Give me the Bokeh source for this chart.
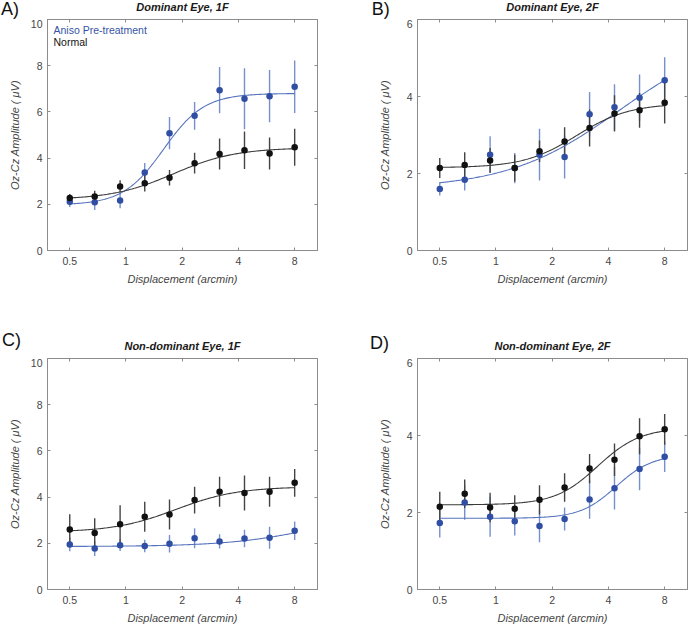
import numpy as np
from bokeh.plotting import figure
from bokeh.models import FixedTicker, Label, Range1d, LogAxis, LinearAxis
from bokeh.layouts import column, row
from bokeh.embed import file_html
from bokeh.resources import INLINE

# ---------------- data ----------------
displacement = [0.5, 0.68, 0.93, 1.26, 1.71, 2.33, 3.17, 4.31, 5.87, 8.0]
x_ticks = [0.5, 1, 2, 4, 8]
x_tick_labels = ["0.5", "1", "2", "4", "8"]
y_ticks_1f = [0, 2, 4, 6, 8, 10]
y_ticks_2f = [0, 2, 4, 6]

legend_labels = ["Aniso Pre-treatment", "Normal"]
panel_letters = ["A)", "B)", "C)", "D)"]
panel_titles = ["Dominant Eye, 1F", "Dominant Eye, 2F",
                "Non-dominant Eye, 1F", "Non-dominant Eye, 2F"]

# Panel A: dominant eye, 1F
a_aniso = [2.11, 2.09, 2.16, 3.38, 5.08, 5.83, 6.94, 6.57, 6.68, 7.09]
a_aniso_err = [0.23, 0.34, 0.33, 0.41, 0.70, 0.60, 1.00, 1.32, 1.13, 1.14]
a_normal = [2.27, 2.34, 2.77, 2.91, 3.15, 3.78, 4.18, 4.34, 4.20, 4.47]
a_normal_err = [0.18, 0.25, 0.27, 0.36, 0.34, 0.45, 0.67, 0.81, 0.69, 0.80]

# Panel B: dominant eye, 2F
b_aniso = [1.60, 1.84, 2.49, 2.14, 2.49, 2.43, 3.54, 3.72, 3.97, 4.42]
b_aniso_err = [0.17, 0.28, 0.48, 0.39, 0.67, 0.56, 0.58, 0.60, 0.60, 0.60]
b_normal = [2.14, 2.22, 2.34, 2.14, 2.58, 2.83, 3.18, 3.56, 3.64, 3.84]
b_normal_err = [0.26, 0.33, 0.32, 0.35, 0.28, 0.37, 0.48, 0.47, 0.45, 0.54]

# Panel C: non-dominant eye, 1F
c_aniso = [1.95, 1.77, 1.92, 1.88, 1.98, 2.22, 2.08, 2.21, 2.24, 2.54]
c_aniso_err = [0.29, 0.32, 0.25, 0.27, 0.38, 0.43, 0.31, 0.38, 0.48, 0.40]
c_normal = [2.60, 2.45, 2.83, 3.15, 3.25, 3.87, 4.23, 4.18, 4.23, 4.62]
c_normal_err = [0.66, 0.63, 0.82, 0.65, 0.65, 0.58, 0.65, 0.76, 0.65, 0.60]

# Panel D: non-dominant eye, 2F
d_aniso = [1.73, 2.26, 1.89, 1.77, 1.65, 1.83, 2.34, 2.63, 3.13, 3.45]
d_aniso_err = [0.38, 0.45, 0.52, 0.37, 0.42, 0.30, 0.50, 0.55, 0.55, 0.40]
d_normal = [2.15, 2.49, 2.13, 2.10, 2.33, 2.65, 3.14, 3.37, 3.98, 4.16]
d_normal_err = [0.39, 0.37, 0.38, 0.35, 0.38, 0.37, 0.38, 0.42, 0.47, 0.40]

# Sigmoid fit parameters: [baseline, amplitude, x50 (arcmin), slope (octaves)]
a_aniso_fit = [1.97, 4.83, 1.59, 0.36]
a_normal_fit = [2.20, 2.25, 1.80, 0.55]
b_aniso_fit = [1.60, 4.09, 4.59, 1.00]
b_normal_fit = [2.15, 1.67, 2.70, 0.47]
c_aniso_fit = [1.86, 1.70, 11.3, 0.80]
c_normal_fit = [2.48, 1.97, 1.85, 0.55]
d_aniso_fit = [1.85, 1.65, 4.40, 0.32]
d_normal_fit = [2.20, 2.00, 3.50, 0.38]

# ---------------- style ----------------
FONT = "Liberation Sans"
BLUE_DOT = "#2f4ea4"
BLUE_LINE = "#5673bd"
BLUE_ERR = "#7590cc"
BLACK_DOT = "#111111"
BLACK_LINE = "#3a3a3a"
BLACK_ERR = "#444444"
AXIS_COL = "#8c8c8c"
TEXT_COL = "#454545"
X_LO, X_HI = 0.38, 10.6
PAGE_W = 688
TICK_LEN = 3  # px, inward


def sigmoid(x, params):
    base, amp, x50, s = params
    return base + amp / (1.0 + np.exp(-(np.log2(x) - np.log2(x50)) / s))


def style_axis(ax):
    ax.axis_line_color = AXIS_COL
    ax.major_tick_line_color = AXIS_COL
    ax.major_tick_in = TICK_LEN
    ax.major_tick_out = 0
    ax.minor_tick_in = 0
    ax.minor_tick_out = 0
    ax.minor_tick_line_color = None


def make_header(height, items):
    """Strip whose plotting frame is the whole canvas (units = pixels, y up)."""
    h = figure(width=PAGE_W, height=height, x_range=Range1d(0, PAGE_W),
               y_range=Range1d(0, height), output_backend="svg",
               toolbar_location=None, x_axis_location=None, y_axis_location=None,
               min_border=0, min_border_left=0, min_border_right=0,
               min_border_top=0, min_border_bottom=0)
    h.grid.visible = False
    h.outline_line_color = None
    h.background_fill_color = "white"
    h.border_fill_color = "white"
    for idx, lx, ly, tx, ty in items:
        h.add_layout(Label(x=lx, y=ly, text=panel_letters[idx], text_align="left",
                           text_baseline="alphabetic", text_font=FONT,
                           text_font_size="18px", text_color="#111111"))
        h.add_layout(Label(x=tx, y=ty, text=panel_titles[idx], text_align="center",
                           text_baseline="alphabetic", text_font=FONT,
                           text_font_style="bold italic", text_font_size="11px",
                           text_color="#1a1a1a"))
    return h


def make_panel(ymax, yticks, aniso, aniso_err, normal, normal_err,
               aniso_fit, normal_fit, height, left, right, bottom,
               ylabel_standoff, legend=False):
    p = figure(width=344, height=height, x_axis_type="log",
               x_range=Range1d(X_LO, X_HI), y_range=Range1d(0, ymax),
               output_backend="svg", toolbar_location=None,
               min_border_left=left, min_border_right=right,
               min_border_top=0, min_border_bottom=bottom)
    p.xgrid.visible = False
    p.ygrid.visible = False
    p.outline_line_color = AXIS_COL
    p.background_fill_color = "white"
    p.border_fill_color = "white"

    # bottom axis
    xa = p.xaxis[0]
    xa.ticker = FixedTicker(ticks=x_ticks)
    xa.major_label_overrides = {t: l for t, l in zip(x_ticks, x_tick_labels)}
    style_axis(xa)
    xa.major_label_text_font = FONT
    xa.major_label_text_font_size = "10.5px"
    xa.major_label_text_color = TEXT_COL
    xa.major_label_standoff = 6
    xa.axis_label = "Displacement (arcmin)"
    xa.axis_label_text_font = FONT
    xa.axis_label_text_font_style = "italic"
    xa.axis_label_text_font_size = "11px"
    xa.axis_label_text_color = TEXT_COL
    xa.axis_label_standoff = 5

    # left axis
    ya = p.yaxis[0]
    ya.ticker = FixedTicker(ticks=yticks)
    style_axis(ya)
    ya.major_label_text_font = FONT
    ya.major_label_text_font_size = "10.5px"
    ya.major_label_text_color = TEXT_COL
    ya.major_label_standoff = 5
    ya.axis_label = "Oz-Cz Amplitude ( \u03bcV)"
    ya.axis_label_text_font = FONT
    ya.axis_label_text_font_style = "italic"
    ya.axis_label_text_font_size = "11px"
    ya.axis_label_text_color = TEXT_COL
    ya.axis_label_standoff = ylabel_standoff

    # box: inward ticks mirrored on the top and right edges (no labels there)
    ta = LogAxis(ticker=FixedTicker(ticks=x_ticks), major_label_text_font_size="0px",
                 major_label_standoff=0)
    style_axis(ta)
    p.add_layout(ta, "above")
    ra = LinearAxis(ticker=FixedTicker(ticks=yticks), major_label_text_font_size="0px",
                    major_label_standoff=0)
    style_axis(ra)
    p.add_layout(ra, "right")

    # error bars
    a = np.array(aniso); ae = np.array(aniso_err)
    n = np.array(normal); ne = np.array(normal_err)
    p.segment(x0=displacement, y0=a - ae, x1=displacement, y1=a + ae,
              line_color=BLUE_ERR, line_width=1.4)
    p.segment(x0=displacement, y0=n - ne, x1=displacement, y1=n + ne,
              line_color=BLACK_ERR, line_width=1.4)

    # fitted curves
    xs = np.geomspace(displacement[0], displacement[-1], 200)
    p.line(xs, sigmoid(xs, aniso_fit), line_color=BLUE_LINE, line_width=1.1)
    p.line(xs, sigmoid(xs, normal_fit), line_color=BLACK_LINE, line_width=1.1)

    # points
    p.scatter(displacement, aniso, size=6.5, fill_color=BLUE_DOT, line_color=None)
    p.scatter(displacement, normal, size=6.5, fill_color=BLACK_DOT, line_color=None)

    if legend:
        p.add_layout(Label(x=X_LO, y=ymax, x_offset=6, y_offset=-10.5,
                           text=legend_labels[0], text_baseline="alphabetic",
                           text_font=FONT, text_font_size="10.5px",
                           text_color="#3553a6"))
        p.add_layout(Label(x=X_LO, y=ymax, x_offset=6, y_offset=-22.5,
                           text=legend_labels[1], text_baseline="alphabetic",
                           text_font=FONT, text_font_size="10.5px",
                           text_color="#111111"))
    return p


header_top = make_header(19, [(0, 0.5, 10.3, 182, 12.9), (1, 371.3, 10.3, 552, 12.9)])
pA = make_panel(10, y_ticks_1f, a_aniso, a_aniso_err, a_normal, a_normal_err,
                a_aniso_fit, a_normal_fit, height=291, left=47, right=27,
                bottom=60, ylabel_standoff=7, legend=True)
pB = make_panel(6, y_ticks_2f, b_aniso, b_aniso_err, b_normal, b_normal_err,
                b_aniso_fit, b_normal_fit, height=291, left=73, right=1,
                bottom=60, ylabel_standoff=13)
header_bottom = make_header(48, [(2, 1.5, 18.7, 182, 12.9), (3, 369.5, 15.3, 552, 12.9)])
pC = make_panel(10, y_ticks_1f, c_aniso, c_aniso_err, c_normal, c_normal_err,
                c_aniso_fit, c_normal_fit, height=268, left=47, right=27,
                bottom=37, ylabel_standoff=7)
pD = make_panel(6, y_ticks_2f, d_aniso, d_aniso_err, d_normal, d_normal_err,
                d_aniso_fit, d_normal_fit, height=268, left=73, right=1,
                bottom=37, ylabel_standoff=13)

layout = column(header_top, row(pA, pB), header_bottom, row(pC, pD))
open("out.html", "w").write(file_html(layout, INLINE))
